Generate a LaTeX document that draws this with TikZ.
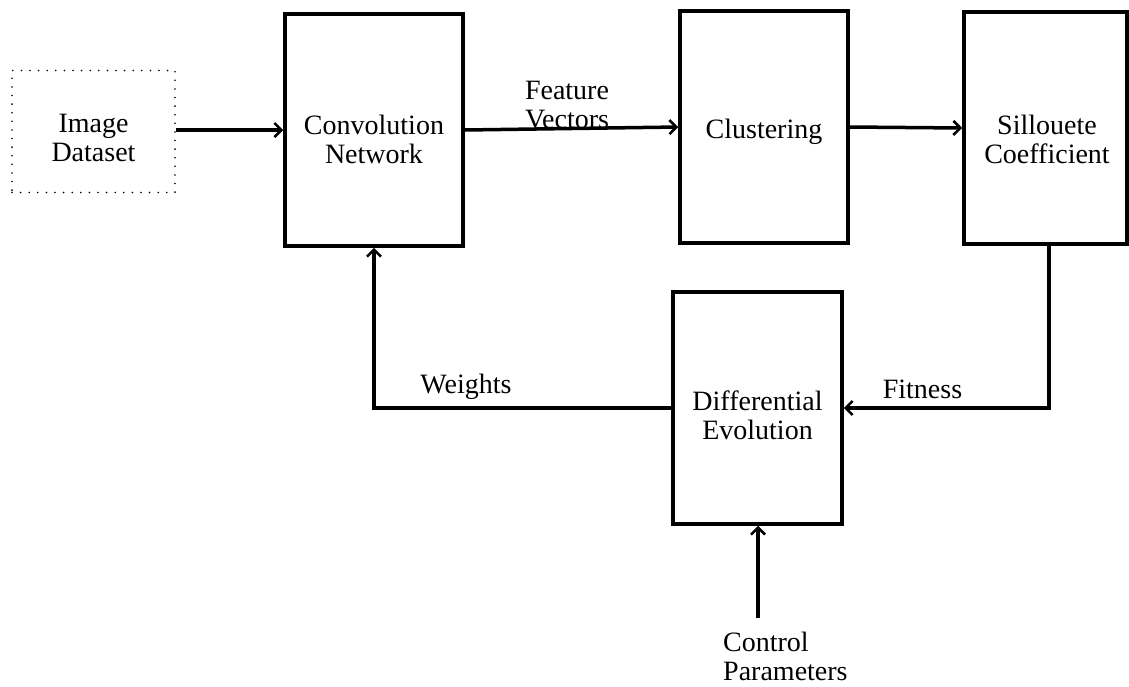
\documentclass[tikz,border=0pt]{standalone}
\usepackage{fontspec}
\setmainfont{Liberation Serif}
\usetikzlibrary{arrows.meta}
\begin{document}
\begin{tikzpicture}[x=1pt,y=-1pt,
  block/.style={draw,line width=3.5pt,minimum width=#1,minimum height=232pt,inner sep=0pt},
  txt/.style={align=center,inner sep=0pt,font=\fontsize{28}{29}\selectfont},
  flow/.style={line width=3.5pt,-{Straight Barb[length=7pt,width=14pt,line width=2.6pt]}}]
\useasboundingbox (0,0) rectangle (1129,686);
% blocks
\node[draw,line width=1.8pt,line cap=round,dash pattern=on 0pt off 8.6pt,minimum width=163pt,minimum height=122pt,inner sep=0pt] (img) at (93.5,131.5) {};
\node[block=178pt] (conv) at (374,130) {};
\node[block=168pt] (clus) at (764,127) {};
\node[block=163pt] (sil) at (1045.5,128) {};
\node[block=169pt] (de) at (757.5,408) {};
% block texts
\node[txt] (timg) at (93.5,138) {Image\\Dataset};
\node[txt] (tconv) at (374,139) {Convolution\\Network};
\node[txt] (tclus) at (764,132) {Clustering};
\node[txt] (tsil) at (1047,139) {Sillouete\\Coefficient};
\node[txt] (tde) at (757.5,415) {Differential\\Evolution};
% edge labels
\node[txt] (tfv) at (567,105) {Feature\\Vectors};
\node[txt] (tfit) at (922.5,389) {Fitness};
\node[txt] (tw) at (466,387) {Weights};
\node[txt,align=left,anchor=west] (tcp) at (723,656) {Control\\Parameters};
% connectors
\coordinate (cpin) at (758,618);
\coordinate (silturn) at (1049,408);
\coordinate (wturn) at (374,408);
\draw[flow] (img.east |- 0,130) -- (conv.west |- 0,130);
\draw[flow] (conv.east) -- (clus.west);
\draw[flow] (clus.east) -- (sil.west);
\draw[flow] (sil.south -| silturn) -- (silturn) -- (de.east);
\draw[flow] (de.west) -- (wturn) -- (conv.south);
\draw[flow] (cpin) -- (de.south -| cpin);
\end{tikzpicture}
\end{document}
